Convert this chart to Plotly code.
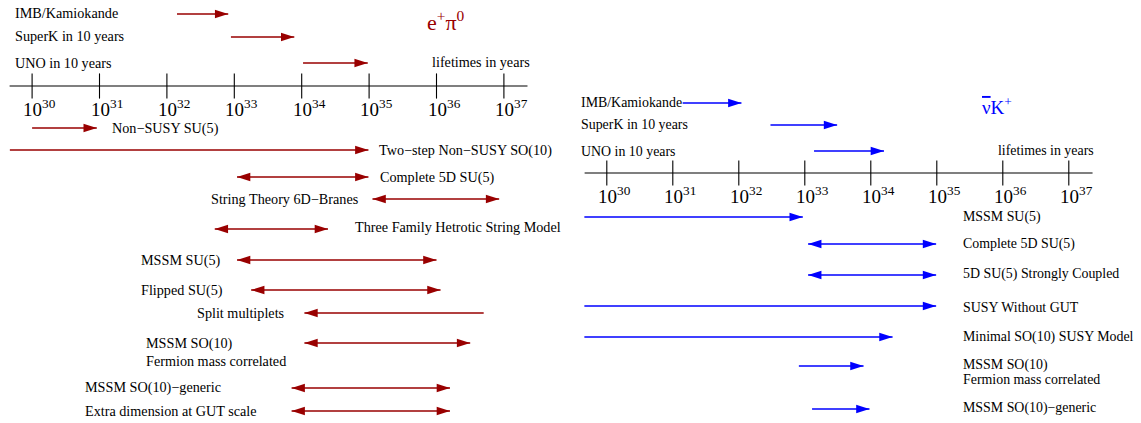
import plotly.graph_objects as go

# ---------------- DATA (log10 of lifetime in years) ----------------
decades = [30, 31, 32, 33, 34, 35, 36, 37]
tick_labels = ["10<sup>%d</sup>" % d for d in decades]

# e+ pi0 panel
ep_title = "e<sup>+</sup>π<sup>0</sup>"
exp_names = ["IMB/Kamiokande", "SuperK in 10 years", "UNO in 10 years"]
ep_exp_from = [32.15, 32.95, 34.02]
ep_exp_to = [32.91, 33.89, 34.98]

ep_th_names = ["Non−SUSY SU(5)", "Two−step Non−SUSY SO(10)", "Complete 5D SU(5)",
               "String Theory 6D−Branes", "Three Family Hetrotic String Model",
               "MSSM SU(5)", "Flipped SU(5)", "Split multiplets",
               "MSSM SO(10)", "MSSM SO(10)−generic", "Extra dimension at GUT scale"]
ep_th_lo = [30.00, 29.67, 33.04, 35.05, 32.71, 33.04, 33.25, 34.04, 34.04, 33.85, 33.85]
ep_th_hi = [30.96, 34.99, 34.99, 36.93, 34.39, 36.00, 36.06, 36.70, 36.50, 36.20, 36.20]
ep_th_kind = ["right", "right", "both", "both", "both", "both", "both", "left", "both", "both", "both"]

# nu-bar K+ panel
nk_title = "<span style=\"text-decoration:overline\">ν</span>K<sup>+</sup>"
nk_exp_from = [31.15, 32.48, 33.14]
nk_exp_to = [32.04, 33.49, 34.20]

nk_th_names = ["MSSM SU(5)", "Complete 5D SU(5)", "5D SU(5) Strongly Coupled",
               "SUSY Without GUT", "Minimal SO(10) SUSY Model", "MSSM SO(10)",
               "MSSM SO(10)−generic"]
nk_th_lo = [29.66, 33.05, 33.05, 29.66, 29.66, 32.91, 33.11]
nk_th_hi = [32.97, 34.99, 34.99, 34.99, 34.33, 33.89, 33.98]
nk_th_kind = ["right", "both", "both", "right", "right", "right", "right"]

sub_note = "Fermion mass correlated"
axis_note = "lifetimes in years"

# ---------------- LAYOUT (positions / styles) ----------------
W, H = 1141, 423
RED = "#990000"
BLUE = "#0000ff"
SERIF = "Liberation Serif, Times New Roman, serif"

# rows (pixel-like y; y axis reversed 0..H)
ep_exp_rows = [14, 37, 63]
ep_axis_row = 86
ep_th_rows = [128, 150, 177, 199, 229, 260, 290, 313, 343, 388, 411]
nk_exp_rows = [103, 125, 151]
nk_axis_row = 173
nk_th_rows = [217, 244, 275, 306, 337, 366, 409]

ep_axis_span = [29.666, 37.35]
nk_axis_span = [29.664, 37.36]

# label placement (left x in px, y in px)
ep_exp_label_pos = [(14, 13), (14, 36), (14, 63)]
ep_th_label_pos = [(111, 128), (378, 150), (379, 177), (210, 199), (354, 227),
                   (140, 260), (140, 290), (196, 313), (145, 343), (84, 387), (84, 411)]
ep_sub_pos = (145, 361)
nk_exp_label_pos = [(580, 102), (580, 124), (580, 151)]
nk_th_label_pos = [(962, 217), (962, 244), (962, 274), (962, 307), (962, 337),
                   (962, 365), (962, 408)]
nk_sub_pos = (962, 379)

LEFT_FONT = 14.2
RIGHT_FONT = 13.9

fig = go.Figure()


def arrows(xaxis, yaxis, lo, hi, rows, kind, color, width):
    xs, ys, hx, hy, ang = [], [], [], [], []
    for a, b, r, k in zip(lo, hi, rows, kind):
        xs += [a, b, None]
        ys += [r, r, None]
        if k in ("right", "both"):
            hx.append(b); hy.append(r); ang.append(90)
        if k in ("left", "both"):
            hx.append(a); hy.append(r); ang.append(-90)
    fig.add_trace(go.Scatter(x=xs, y=ys, mode="lines", xaxis=xaxis, yaxis=yaxis,
                             line=dict(color=color, width=width), hoverinfo="skip"))
    fig.add_trace(go.Scatter(x=hx, y=hy, mode="markers", xaxis=xaxis, yaxis=yaxis,
                             marker=dict(symbol="arrow", size=14, angle=ang, color=color,
                                         line=dict(width=0)),
                             hoverinfo="skip"))


def axis_line(xaxis, yaxis, span, row):
    fig.add_trace(go.Scatter(x=span, y=[row, row], mode="lines", xaxis=xaxis, yaxis=yaxis,
                             line=dict(color="black", width=1.2), hoverinfo="skip"))
    fig.add_trace(go.Scatter(x=decades, y=[row] * len(decades), mode="markers",
                             xaxis=xaxis, yaxis=yaxis,
                             marker=dict(symbol="line-ns", size=18,
                                         line=dict(color="black", width=1.1)),
                             hoverinfo="skip"))
    for d, t in zip(decades, tick_labels):
        fig.add_annotation(x=d, y=row + 22, xref=xaxis, yref=yaxis, text=t,
                           showarrow=False, xanchor="left", yanchor="middle", xshift=-11,
                           font=dict(family=SERIF, size=19, color="black"))


def label(px, py, text, size, color="black"):
    fig.add_annotation(x=px / W, y=py, xref="paper", yref="y", text=text,
                       showarrow=False, xanchor="left", yanchor="middle", xshift=-1,
                       font=dict(family=SERIF, size=size, color=color))


# left panel
axis_line("x", "y", ep_axis_span, ep_axis_row)
arrows("x", "y", ep_exp_from, ep_exp_to, ep_exp_rows, ["right"] * 3, RED, 1.5)
arrows("x", "y", ep_th_lo, ep_th_hi, ep_th_rows, ep_th_kind, RED, 1.4)
for n, (px, py) in zip(exp_names, ep_exp_label_pos):
    label(px, py, n, LEFT_FONT)
for n, (px, py) in zip(ep_th_names, ep_th_label_pos):
    label(px, py, n, LEFT_FONT)
label(*ep_sub_pos, sub_note, LEFT_FONT)
label(431, 62, axis_note, LEFT_FONT)
label(426, 21, ep_title, 22, RED)

# right panel
axis_line("x2", "y", nk_axis_span, nk_axis_row)
arrows("x2", "y", nk_exp_from, nk_exp_to, nk_exp_rows, ["right"] * 3, BLUE, 1.5)
arrows("x2", "y", nk_th_lo, nk_th_hi, nk_th_rows, nk_th_kind, BLUE, 1.5)
for n, (px, py) in zip(exp_names, nk_exp_label_pos):
    label(px, py, n, RIGHT_FONT)
for n, (px, py) in zip(nk_th_names, nk_th_label_pos):
    label(px, py, n, RIGHT_FONT)
label(*nk_sub_pos, sub_note, RIGHT_FONT)
label(997, 150, axis_note, RIGHT_FONT)
label(981, 106, nk_title, 19, BLUE)

fig.update_layout(
    width=W, height=H, margin=dict(l=0, r=0, t=0, b=0),
    paper_bgcolor="white", plot_bgcolor="white", showlegend=False,
    xaxis=dict(domain=[0, 0.5], range=[30 - 32.1 / 67.4, 30 + 538.4 / 67.4], visible=False),
    xaxis2=dict(domain=[0.5, 1], range=[30 - 36.3 / 66.0, 30 + 534.2 / 66.0], visible=False,
                anchor="y"),
    yaxis=dict(range=[H, 0], visible=False, domain=[0, 1]),
)

fig.write_html("out.html")
